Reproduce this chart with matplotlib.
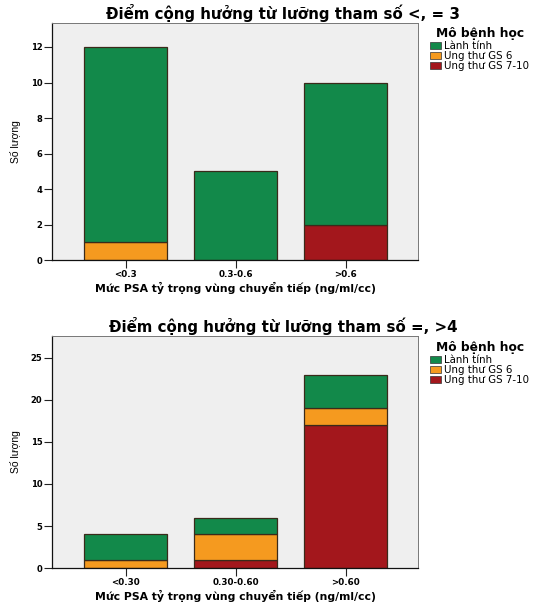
import matplotlib
matplotlib.use("Agg")
import matplotlib.pyplot as plt
from matplotlib.patches import Patch
import numpy as np

plt.rcParams['font.family'] = ['DejaVu Sans']

# Data
series_names = ["Lành tính", "Ung thư GS 6", "Ung thư GS 7-10"]
colors = ["#12894A", "#F59A1F", "#A3171C"]

top_title = "Điểm cộng hưởng từ lưỡng tham số <, = 3"
top_cats = ["<0.3", "0.3-0.6", ">0.6"]
top_benign = [11, 5, 8]
top_gs6 = [1, 0, 0]
top_gs7 = [0, 0, 2]
top_yticks = [0, 2, 4, 6, 8, 10, 12]

bot_title = "Điểm cộng hưởng từ lưỡng tham số =, >4"
bot_cats = ["<0.30", "0.30-0.60", ">0.60"]
bot_benign = [3, 2, 4]
bot_gs6 = [1, 3, 2]
bot_gs7 = [0, 1, 17]
bot_yticks = [0, 5, 10, 15, 20, 25]

xlabel = "Mức PSA tỷ trọng vùng chuyển tiếp (ng/ml/cc)"
ylabel = "Số lượng"
legend_title = "Mô bệnh học"

fig = plt.figure(figsize=(5.33, 6.03), dpi=100)
fig.patch.set_facecolor("white")

ax1 = fig.add_axes([0.0976, 0.5688, 0.687, 0.393])
ax2 = fig.add_axes([0.0976, 0.0580, 0.687, 0.3847])


def draw(ax, title, cats, benign, gs6, gs7, yticks, ytop, legend_y):
    x = np.arange(len(cats))
    w = 0.755
    gs7 = np.array(gs7, float)
    gs6 = np.array(gs6, float)
    benign = np.array(benign, float)
    ax.set_facecolor("#EFEFEF")
    kw = dict(width=w, edgecolor="#3a2a1a", linewidth=0.9)
    for vals, bottom, c in [(gs7, np.zeros(3), colors[2]),
                            (gs6, gs7, colors[1]),
                            (benign, gs7 + gs6, colors[0])]:
        mask = vals > 0
        ax.bar(x[mask], vals[mask], bottom=bottom[mask], color=c, **kw)
    ax.set_xlim(-0.668, 2.66)
    ax.set_ylim(0, ytop)
    ax.set_xticks(x)
    ax.set_xticklabels(cats, fontsize=6.3, fontweight="bold")
    ax.set_yticks(yticks)
    ax.set_yticklabels([str(t) for t in yticks], fontsize=6, fontweight="bold")
    ax.tick_params(axis="both", length=5.5, width=0.8, pad=1.5, color="#222222")
    for s in ["left", "bottom"]:
        ax.spines[s].set_color("#111111")
        ax.spines[s].set_linewidth(0.9)
    for s in ["top", "right"]:
        ax.spines[s].set_color("#777777")
        ax.spines[s].set_linewidth(0.7)
    # title centred over the whole chart (plot + legend)
    ax.set_title(title, fontsize=10.8, fontweight="bold", pad=3, x=0.631)
    ax.set_xlabel(xlabel, fontsize=7.8, fontweight="bold", labelpad=2)
    ax.set_ylabel(ylabel, fontsize=7.5, family=["Liberation Sans Narrow", "Liberation Sans"], labelpad=7)
    handles = [Patch(facecolor=c, edgecolor="#333333", linewidth=0.5) for c in colors]
    leg = fig.legend(handles, series_names, loc="upper left",
                     bbox_to_anchor=(0.797, legend_y), frameon=False,
                     fontsize=7.4, title=legend_title,
                     title_fontproperties={"weight": "bold", "size": 8.8},
                     handlelength=1.1, handleheight=0.7, handletextpad=0.3,
                     labelspacing=0.0, borderpad=0.0, alignment="left")
    leg._legend_box.sep = 1
    leg.get_title().set_x(6)
    return leg


draw(ax1, top_title, top_cats, top_benign, top_gs6, top_gs7, top_yticks, 13.35, 0.964)
draw(ax2, bot_title, bot_cats, bot_benign, bot_gs6, bot_gs7, bot_yticks, 27.6, 0.443)

fig.savefig("out.png", dpi=100)
